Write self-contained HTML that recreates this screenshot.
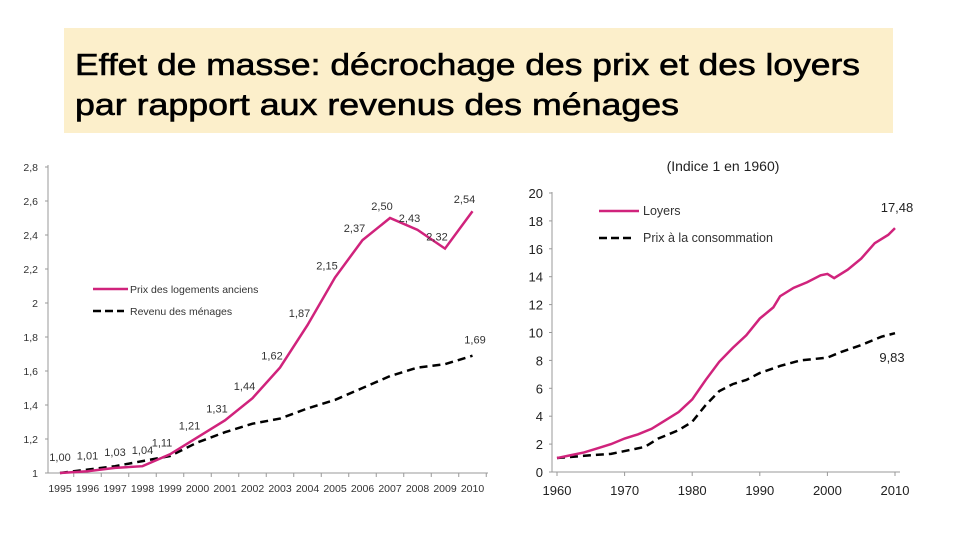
<!DOCTYPE html>
<html><head><meta charset="utf-8"><style>
html,body{margin:0;padding:0;background:#fff;width:960px;height:540px;overflow:hidden}
svg{display:block;font-family:"Liberation Sans",sans-serif}
</style></head><body>
<svg id="svg" width="960" height="540" viewBox="0 0 960 540">
<rect x="64" y="28" width="829" height="105" fill="#fcefcb"/>
<text x="75" y="75" font-size="31" textLength="785" lengthAdjust="spacingAndGlyphs" fill="#000" stroke="#000" stroke-width="0.6">Effet de masse: décrochage des prix et des loyers</text>
<text x="75" y="115" font-size="31" textLength="604" lengthAdjust="spacingAndGlyphs" fill="#000" stroke="#000" stroke-width="0.6">par rapport aux revenus des ménages</text>
<g id="left"></g>
<g id="right"></g>
</svg>
<script>
// Left chart data
const leftYears = [1995,1996,1997,1998,1999,2000,2001,2002,2003,2004,2005,2006,2007,2008,2009,2010];
const leftPrix = [1.00,1.01,1.03,1.04,1.11,1.21,1.31,1.44,1.62,1.87,2.15,2.37,2.50,2.43,2.32,2.54];
const leftRevenu = [1.00,1.02,1.04,1.07,1.10,1.18,1.24,1.29,1.32,1.38,1.43,1.50,1.57,1.62,1.64,1.69];
const leftYTicks = [1,1.2,1.4,1.6,1.8,2,2.2,2.4,2.6,2.8];
// Right chart data
const rightYearsL = [1960,1962,1964,1966,1968,1970,1972,1974,1976,1978,1980,1982,1984,1986,1988,1990,1992,1993,1995,1997,1999,2000,2001,2003,2005,2007,2009,2010];
const rightLoyers = [1.0,1.2,1.4,1.7,2.0,2.4,2.7,3.1,3.7,4.3,5.2,6.6,7.9,8.9,9.8,11.0,11.8,12.6,13.2,13.6,14.1,14.2,13.9,14.5,15.3,16.4,17.0,17.48];
const rightYearsP = [1960,1965,1968,1970,1973,1975,1978,1980,1982,1984,1986,1988,1990,1993,1996,2000,2002,2005,2008,2010];
const rightPrix = [1.0,1.2,1.3,1.5,1.8,2.4,3.0,3.6,4.8,5.8,6.3,6.6,7.1,7.6,8.0,8.2,8.6,9.1,9.7,9.95];
const rightYTicks = [0,2,4,6,8,10,12,14,16,18,20];
const rightXTicks = [1960,1970,1980,1990,2000,2010];

const NS="http://www.w3.org/2000/svg";
function mk(parent,tag,attrs,txt){const e=document.createElementNS(NS,tag);for(const k in attrs)e.setAttribute(k,attrs[k]);if(txt!==undefined)e.textContent=txt;parent.appendChild(e);return e;}
const fmt=v=>v.toFixed(2).replace('.',',');
const PINK="#d0237c";

// LEFT
const L=document.getElementById('left');
const lx=y=>60+(y-1995)*27.5;
const ly=v=>473-(v-1)*170;
let e;
e=mk(L,'line',{x1:48,y1:165,x2:48,y2:473,stroke:'#999','stroke-width':1});


e=mk(L,'line',{x1:48,y1:473,x2:488,y2:473,stroke:'#999','stroke-width':1});


leftYTicks.forEach(t=>{
  const lab=Number.isInteger(t)?String(t):String(t).replace('.',',');
  e=mk(L,'text',{x:38,y:ly(t)+4,'font-size':10.5,'text-anchor':'end',fill:'#333'},lab);
  
  
  mk(L,'line',{x1:45,y1:ly(t),x2:48,y2:ly(t),stroke:'#999'});
});
leftYears.forEach((y,i)=>{
  e=mk(L,'text',{x:lx(y),y:492,'font-size':10.5,'text-anchor':'middle',fill:'#333'},String(y));
  
  
  mk(L,'line',{x1:lx(y)+13.75,y1:473,x2:lx(y)+13.75,y2:477,stroke:'#999'});
});
e=mk(L,'polyline',{points:leftRevenu.map((v,i)=>lx(leftYears[i])+','+ly(v)).join(' '),fill:'none',stroke:'#000','stroke-width':2.5,'stroke-dasharray':'8,5'});


e=mk(L,'polyline',{points:leftPrix.map((v,i)=>lx(leftYears[i])+','+ly(v)).join(' '),fill:'none',stroke:PINK,'stroke-width':2.5});


leftPrix.forEach((v,i)=>{
  const dx=i<4?0:-8;
  e=mk(L,'text',{x:lx(leftYears[i])+dx,y:ly(v)-(i<4?12:8),'font-size':11,'text-anchor':'middle',fill:'#333'},fmt(v));
  
  
});
e=mk(L,'text',{x:475,y:ly(leftRevenu[15])-12,'font-size':11,'text-anchor':'middle',fill:'#333'},fmt(leftRevenu[15]));


mk(L,'line',{x1:93,y1:289,x2:128,y2:289,stroke:PINK,'stroke-width':2.5});
e=mk(L,'text',{x:130,y:293,'font-size':10.5,fill:'#333'},'Prix des logements anciens');


mk(L,'line',{x1:93,y1:311,x2:124,y2:311,stroke:'#000','stroke-width':2.5,'stroke-dasharray':'8,4'});
e=mk(L,'text',{x:130,y:315,'font-size':10.5,fill:'#333'},'Revenu des ménages');



// RIGHT
const R=document.getElementById('right');
const rx=y=>557+(y-1960)*6.76;
const ry=v=>472-v*13.95;
e=mk(R,'line',{x1:552,y1:192,x2:552,y2:472,stroke:'#999'});


e=mk(R,'line',{x1:552,y1:472,x2:900,y2:472,stroke:'#999'});


rightYTicks.forEach(t=>{
  e=mk(R,'text',{x:543,y:ry(t)+5,'font-size':13,'text-anchor':'end',fill:'#222'},String(t));
  
  
  mk(R,'line',{x1:549,y1:ry(t),x2:552,y2:ry(t),stroke:'#999'});
});
rightXTicks.forEach(t=>{
  e=mk(R,'text',{x:rx(t),y:495,'font-size':13,'text-anchor':'middle',fill:'#222'},String(t));
  
  
  mk(R,'line',{x1:rx(t),y1:472,x2:rx(t),y2:476,stroke:'#999'});
});
e=mk(R,'polyline',{points:rightPrix.map((v,i)=>rx(rightYearsP[i])+','+ry(v)).join(' '),fill:'none',stroke:'#000','stroke-width':2.5,'stroke-dasharray':'8,5'});


e=mk(R,'polyline',{points:rightLoyers.map((v,i)=>rx(rightYearsL[i])+','+ry(v)).join(' '),fill:'none',stroke:PINK,'stroke-width':2.5});


e=mk(R,'text',{x:897,y:ry(rightLoyers[rightLoyers.length-1])-16,'font-size':13,'text-anchor':'middle',fill:'#222'},fmt(rightLoyers[rightLoyers.length-1]));


e=mk(R,'text',{x:892,y:362,'font-size':13,'text-anchor':'middle',fill:'#222'},'9,83');


e=mk(R,'text',{x:723,y:171,'font-size':14,'text-anchor':'middle',fill:'#222'},'(Indice 1 en 1960)');


mk(R,'line',{x1:599,y1:211,x2:639,y2:211,stroke:PINK,'stroke-width':2.5});
e=mk(R,'text',{x:643,y:215,'font-size':12.5,fill:'#333'},'Loyers');


mk(R,'line',{x1:599,y1:238,x2:634,y2:238,stroke:'#000','stroke-width':2.5,'stroke-dasharray':'8,4'});
e=mk(R,'text',{x:643,y:242,'font-size':12.5,fill:'#333'},'Prix à la consommation');


</script>
</body></html>
